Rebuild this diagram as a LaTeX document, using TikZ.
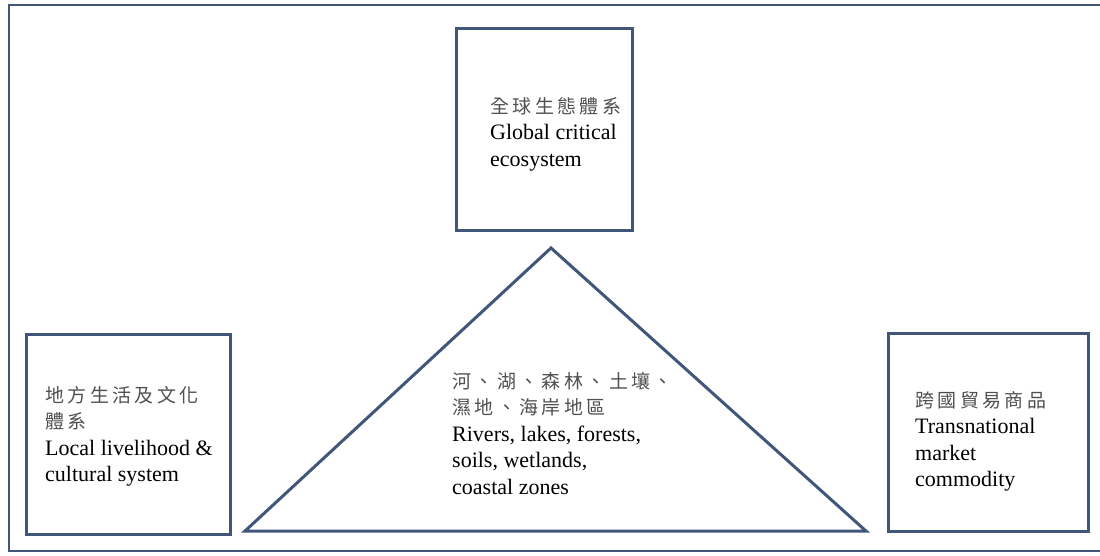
\documentclass[tikz,border=0pt]{standalone}
\usepackage{fontspec}
\setmainfont{Liberation Serif}
\newfontfamily\cjk[LetterSpace=18]{Noto Sans CJK TC}
\definecolor{frame}{RGB}{65,87,122}
\definecolor{cjkgrey}{RGB}{80,80,80}
\tikzset{
  box/.style={draw=frame, line width=3pt, fill=white, inner sep=0pt, anchor=north west},
  label/.style={anchor=north west, inner sep=0pt, align=left, font=\fontsize{22}{26.5}\selectfont}
}
\newcommand{\zhtext}[1]{{\color{cjkgrey}\cjk\fontsize{19}{26.5}\selectfont #1}}
\begin{document}
\begin{tikzpicture}[x=1pt,y=-1pt]
\useasboundingbox[fill=white] (0,0) rectangle (1100,556);
% outer frame (right edge lies outside the picture)
\coordinate (ftr) at (1102,5);
\coordinate (ftl) at (9,5);
\coordinate (fbl) at (9,551);
\coordinate (fbr) at (1102,551);
\draw[frame, line width=2.8pt] (ftr) -- (ftl) -- (fbl) -- (fbr);
% boxes
\node[box, minimum width=176pt, minimum height=202pt] (global) at (455,27) {};
\node[box, minimum width=204pt, minimum height=200pt] (local) at (25,333) {};
\node[box, minimum width=200pt, minimum height=198pt] (market) at (887,332) {};
% triangle
\coordinate (apex) at (551,248);
\coordinate (bl) at (245,531);
\coordinate (br) at (866,531);
\draw[frame, line width=3pt, line join=miter] (apex) -- (bl) -- (br) -- cycle;
% texts
\node[label] (tglobal) at (490,97) {\zhtext{全球生態體系}\\Global critical\\ecosystem};
\node[label] (tlocal) at (45,386) {\zhtext{地方生活及文化}\\\zhtext{體系}\\Local livelihood \&\\cultural system};
\node[label] (tmarket) at (915,391) {\zhtext{跨國貿易商品}\\Transnational\\market\\commodity};
\node[label] (ttri) at (452,372) {\zhtext{河、湖、森林、土壤、}\\\zhtext{濕地、海岸地區}\\Rivers, lakes, forests,\\soils, wetlands,\\coastal zones};
\end{tikzpicture}
\end{document}
